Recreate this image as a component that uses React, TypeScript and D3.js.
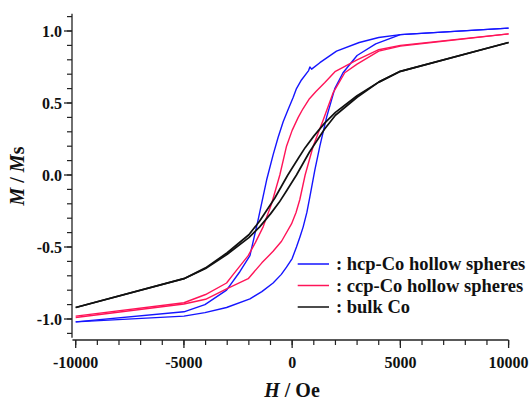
import React from "react";
import * as d3 from "d3";

const hcpDown: [number, number][] = [
  [10000, 1.02], [5000, 0.975], [4000, 0.955], [3100, 0.92], [2050, 0.86], [1280, 0.78],
  [900, 0.735], [820, 0.75], [760, 0.725], [430, 0.66], [200, 0.6], [50, 0.54],
  [-200, 0.45], [-415, 0.37], [-650, 0.26], [-880, 0.14], [-1180, -0.035], [-1570, -0.31], [-1950, -0.56],
  [-2410, -0.67], [-3030, -0.8], [-4030, -0.9], [-5000, -0.95], [-10000, -1.02],
];
const hcpUp: [number, number][] = [
  [-10000, -1.02], [-5000, -0.98], [-4030, -0.956], [-3030, -0.92], [-1950, -0.86],
  [-1400, -0.81], [-880, -0.75], [-500, -0.69], [-260, -0.64], [0, -0.58], [200, -0.5], [360, -0.43],
  [510, -0.36], [680, -0.26], [820, -0.15], [1050, 0.035], [1280, 0.2], [1590, 0.4], [1970, 0.6],
  [2350, 0.71], [3000, 0.83], [3860, 0.91], [5000, 0.975], [10000, 1.02],
];
const ccpDown: [number, number][] = [
  [10000, 0.98], [5000, 0.9], [4000, 0.87], [3000, 0.8], [2000, 0.72],
  [1500, 0.64], [1100, 0.58], [800, 0.53], [500, 0.46], [280, 0.4], [0, 0.31], [-260, 0.2], [-570, 0.0],
  [-950, -0.2], [-1340, -0.36], [-1700, -0.47], [-2030, -0.56], [-2720, -0.69], [-3030, -0.75],
  [-4000, -0.83], [-5000, -0.887], [-10000, -0.98],
];
const ccpUp: [number, number][] = [
  [-10000, -0.99], [-5000, -0.896], [-4000, -0.863], [-3030, -0.79], [-2030, -0.72],
  [-1400, -0.61], [-880, -0.53], [-490, -0.46], [-30, -0.34], [180, -0.26], [355, -0.17], [600, 0.0],
  [970, 0.2], [1430, 0.38], [1890, 0.57], [2430, 0.71], [3000, 0.77],
  [4000, 0.86], [5000, 0.895], [10000, 0.98],
];
const bulkDown: [number, number][] = [
  [10000, 0.92], [5000, 0.72], [4000, 0.645], [3000, 0.55], [2000, 0.435],
  [1500, 0.36], [1000, 0.27], [600, 0.19], [300, 0.12], [-200, 0.0], [-500, -0.08], [-800, -0.16], [-1500, -0.32],
  [-2000, -0.415], [-3000, -0.54], [-4000, -0.645], [-5000, -0.72], [-10000, -0.92],
];
const bulkUp: [number, number][] = [
  [-10000, -0.92], [-5000, -0.72], [-4000, -0.65], [-3000, -0.55], [-2000, -0.435],
  [-1500, -0.36], [-1000, -0.27], [-600, -0.19], [-300, -0.12], [200, 0.0], [500, 0.08], [800, 0.16], [1500, 0.32],
  [2000, 0.415], [3000, 0.54], [4000, 0.645], [5000, 0.72], [10000, 0.92],
];

const xTicks = [-10000, -5000, 0, 5000, 10000];
const yTicks = [-1.0, -0.5, 0.0, 0.5, 1.0];
const legendNames = [": hcp-Co hollow spheres", ": ccp-Co hollow spheres", ": bulk Co"];

const BLUE = "#1515ff";
const RED = "#ff1458";
const BLACK = "#111";

const series = [
  { name: legendNames[0], color: BLUE, width: 1.4, branches: [hcpDown, hcpUp] },
  { name: legendNames[1], color: RED, width: 1.4, branches: [ccpDown, ccpUp] },
  { name: legendNames[2], color: BLACK, width: 1.7, branches: [bulkDown, bulkUp] },
];

const FONT = "'Liberation Serif', 'Times New Roman', serif";

export default function App() {
  const width = 532;
  const height = 402;

  const x = d3.scaleLinear().domain([-10000, 10000]).range([75.7, 508.6]);
  const y = d3.scaleLinear().domain([0, 1]).range([175, 31]);

  const line = d3
    .line<[number, number]>()
    .x((d) => x(d[0]))
    .y((d) => y(d[1]))
    .curve(d3.curveLinear);

  const xMinor = d3.range(-10000, 10001, 1000);
  const yMinor = d3.range(-11, 12).map((v) => v / 10);

  const axisX0 = x(-10150);
  const axisY = 340;
  const yAxisX = 72;
  const yTop = y(1.12);
  const yBot = y(-1.13);

  return (
    <svg
      width={width}
      height={height}
      style={{ position: "absolute", left: 0, top: 0, background: "#fff" }}
      fontFamily={FONT}
    >
      {/* loops */}
      {series.map((s, i) => (
        <g key={i}>
          {s.branches.map((b, j) => (
            <path
              key={j}
              d={line(b) || ""}
              fill="none"
              stroke={s.color}
              strokeWidth={s.width}
              strokeLinejoin="round"
            />
          ))}
        </g>
      ))}

      {/* y axis */}
      <line x1={yAxisX} x2={yAxisX} y1={yTop} y2={yBot} stroke="#222" strokeWidth={1.3} />
      {yMinor.map((v) => (
        <line key={v} x1={yAxisX} x2={yAxisX - 5} y1={y(v)} y2={y(v)} stroke="#222" strokeWidth={1.2} />
      ))}
      {yTicks.map((v) => (
        <g key={v}>
          <line x1={yAxisX} x2={yAxisX - 8} y1={y(v)} y2={y(v)} stroke="#222" strokeWidth={1.3} />
          <text
            x={62}
            y={y(v)}
            dy="0.35em"
            textAnchor="end"
            fontSize={16}
            fontWeight="bold"
            fill="#111"
          >
            {d3.format(".1f")(v).replace("−", "-")}
          </text>
        </g>
      ))}

      {/* x axis */}
      <line x1={axisX0} x2={x(10000)} y1={axisY} y2={axisY} stroke="#222" strokeWidth={1.3} />
      {xMinor.map((v) => (
        <line key={v} x1={x(v)} x2={x(v)} y1={axisY} y2={axisY + 5} stroke="#222" strokeWidth={1.2} />
      ))}
      {xTicks.map((v) => (
        <g key={v}>
          <line x1={x(v)} x2={x(v)} y1={axisY} y2={axisY + 8} stroke="#222" strokeWidth={1.3} />
          <text
            x={x(v)}
            y={368}
            textAnchor="middle"
            fontSize={16}
            fontWeight="bold"
            fill="#111"
          >
            {String(v)}
          </text>
        </g>
      ))}

      {/* axis titles */}
      <text x={292} y={397} textAnchor="middle" fontSize={20} fontWeight="bold" fill="#111">
        <tspan fontStyle="italic">H</tspan>
        <tspan> / Oe</tspan>
      </text>
      <text
        transform="translate(24,176) rotate(-90)"
        textAnchor="middle"
        fontSize={20}
        fontWeight="bold"
        fill="#111"
      >
        <tspan fontStyle="italic">M</tspan>
        <tspan> / </tspan>
        <tspan fontStyle="italic">M</tspan>
        <tspan>s</tspan>
      </text>

      {/* legend */}
      {series.map((s, i) => {
        const ly = 264 + i * 21.5;
        return (
          <g key={i}>
            <line x1={297.7} x2={329} y1={ly} y2={ly} stroke={s.color} strokeWidth={1.5} />
            <text x={336} y={ly} dy="0.35em" fontSize={18.5} fontWeight="bold" fill="#111">
              {s.name}
            </text>
          </g>
        );
      })}
    </svg>
  );
}
